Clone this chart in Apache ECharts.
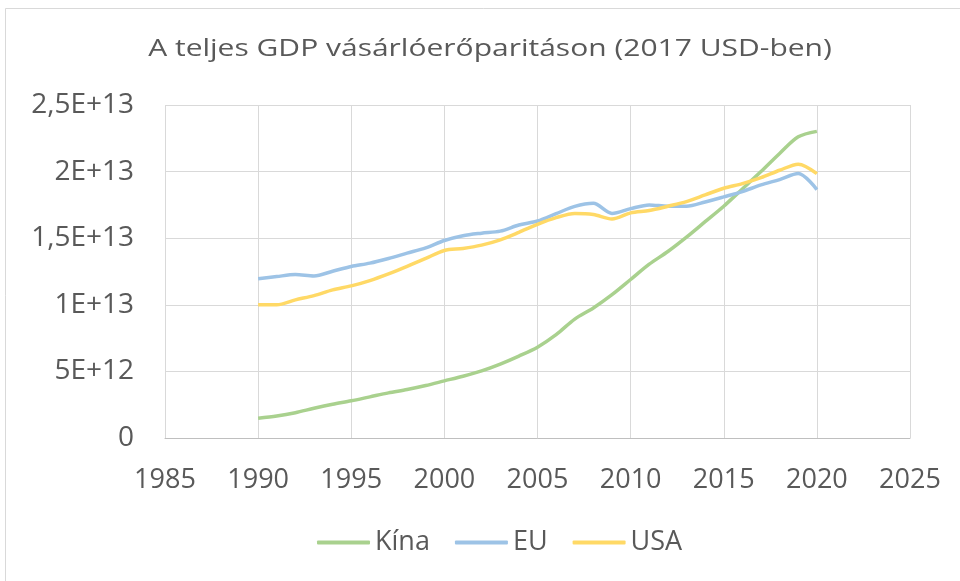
<!DOCTYPE html>
<html>
<head>
<meta charset="utf-8">
<script src="https://cdn.jsdelivr.net/npm/echarts@6/dist/echarts.min.js"></script>
<style>html,body{margin:0;padding:0;background:#fff}#c{width:960px;height:581px}</style>
</head>
<body>
<div id="c"></div>
<script>
var years = [1990,1991,1992,1993,1994,1995,1996,1997,1998,1999,2000,2001,2002,2003,2004,2005,2006,2007,2008,2009,2010,2011,2012,2013,2014,2015,2016,2017,2018,2019,2020];
var kina = [1.48e12,1.65e12,1.90e12,2.23e12,2.53e12,2.79e12,3.09e12,3.39e12,3.64e12,3.94e12,4.29e12,4.64e12,5.04e12,5.55e12,6.15e12,6.82e12,7.76e12,8.93e12,9.76e12,10.76e12,11.90e12,13.05e12,14.00e12,15.08e12,16.24e12,17.40e12,18.70e12,20.00e12,21.36e12,22.61e12,23.02e12];
var eu = [11.95e12,12.12e12,12.27e12,12.17e12,12.52e12,12.88e12,13.13e12,13.48e12,13.88e12,14.28e12,14.83e12,15.19e12,15.38e12,15.53e12,15.99e12,16.29e12,16.84e12,17.39e12,17.62e12,16.86e12,17.22e12,17.50e12,17.40e12,17.40e12,17.72e12,18.10e12,18.50e12,19.00e12,19.40e12,19.85e12,18.65e12];
var usa = [10.00e12,10.00e12,10.37e12,10.69e12,11.12e12,11.42e12,11.82e12,12.32e12,12.88e12,13.48e12,14.08e12,14.23e12,14.48e12,14.88e12,15.44e12,16.04e12,16.54e12,16.86e12,16.78e12,16.44e12,16.90e12,17.08e12,17.40e12,17.75e12,18.25e12,18.75e12,19.10e12,19.55e12,20.10e12,20.56e12,19.85e12];
var yTickValues = [0,5e12,1e13,1.5e13,2e13,2.5e13];
var yTickLabels = ['0','5E+12','1E+13','1,5E+13','2E+13','2,5E+13'];
var seriesNames = ['Kína','EU','USA'];
var titleText = 'A teljes GDP vásárlóerőparitáson (2017 USD-ben)';
var colors = ['#A9D18E','#9DC3E6','#FFD966'];

function pairs(vals){ return years.map(function(y,i){ return [y, vals[i]]; }); }
var allVals = [kina, eu, usa];

var chart = echarts.init(document.getElementById('c'));
var font = '"Open Sans", sans-serif';
chart.setOption({
  animation: false,
  backgroundColor: '#fff',
  graphic: [{
    type: 'rect', shape: { x: 5.5, y: 8.5, width: 980, height: 600 },
    style: { fill: 'none', stroke: '#d9d9d9', lineWidth: 1 }, silent: true
  }, {
    type: 'text', x: 490, y: 49, scaleX: 1.25, silent: true,
    style: { text: titleText, fontFamily: font, fontSize: 24, fill: '#595959',
             textAlign: 'center', textVerticalAlign: 'middle' }
  }],
  grid: { left: 165, right: 50, top: 105, bottom: 143 },
  legend: {
    bottom: 20, left: 312,
    itemWidth: 53, itemHeight: 4, itemGap: 25,
    icon: 'roundRect',
    textStyle: { fontFamily: font, fontSize: 27, color: '#595959' },
    data: seriesNames
  },
  xAxis: {
    type: 'value', min: 1985, max: 2025, interval: 5,
    axisLine: { show: true, lineStyle: { color: '#bfbfbf', width: 1 } },
    axisTick: { show: false },
    splitLine: { show: true, lineStyle: { color: '#d9d9d9', width: 1 } },
    axisLabel: { fontFamily: font, fontSize: 27, color: '#595959', margin: 29,
                 formatter: function(v){ return String(v); } }
  },
  yAxis: {
    type: 'value', min: 0, max: 2.5e13, interval: 5e12,
    axisLine: { show: false }, axisTick: { show: false },
    splitLine: { show: true, lineStyle: { color: '#d9d9d9', width: 1 } },
    axisLabel: {
      fontFamily: font, fontSize: 28, color: '#595959', margin: 31,
      formatter: function(v){ var i = yTickValues.indexOf(v); return i >= 0 ? yTickLabels[i] : ''; }
    }
  },
  series: seriesNames.map(function(n, i){
    return {
      name: n, type: 'line', data: pairs(allVals[i]),
      smooth: 0.3, symbol: 'none',
      lineStyle: { color: colors[i], width: 3.5 },
      itemStyle: { color: colors[i] }
    };
  })
});
</script>
</body>
</html>
